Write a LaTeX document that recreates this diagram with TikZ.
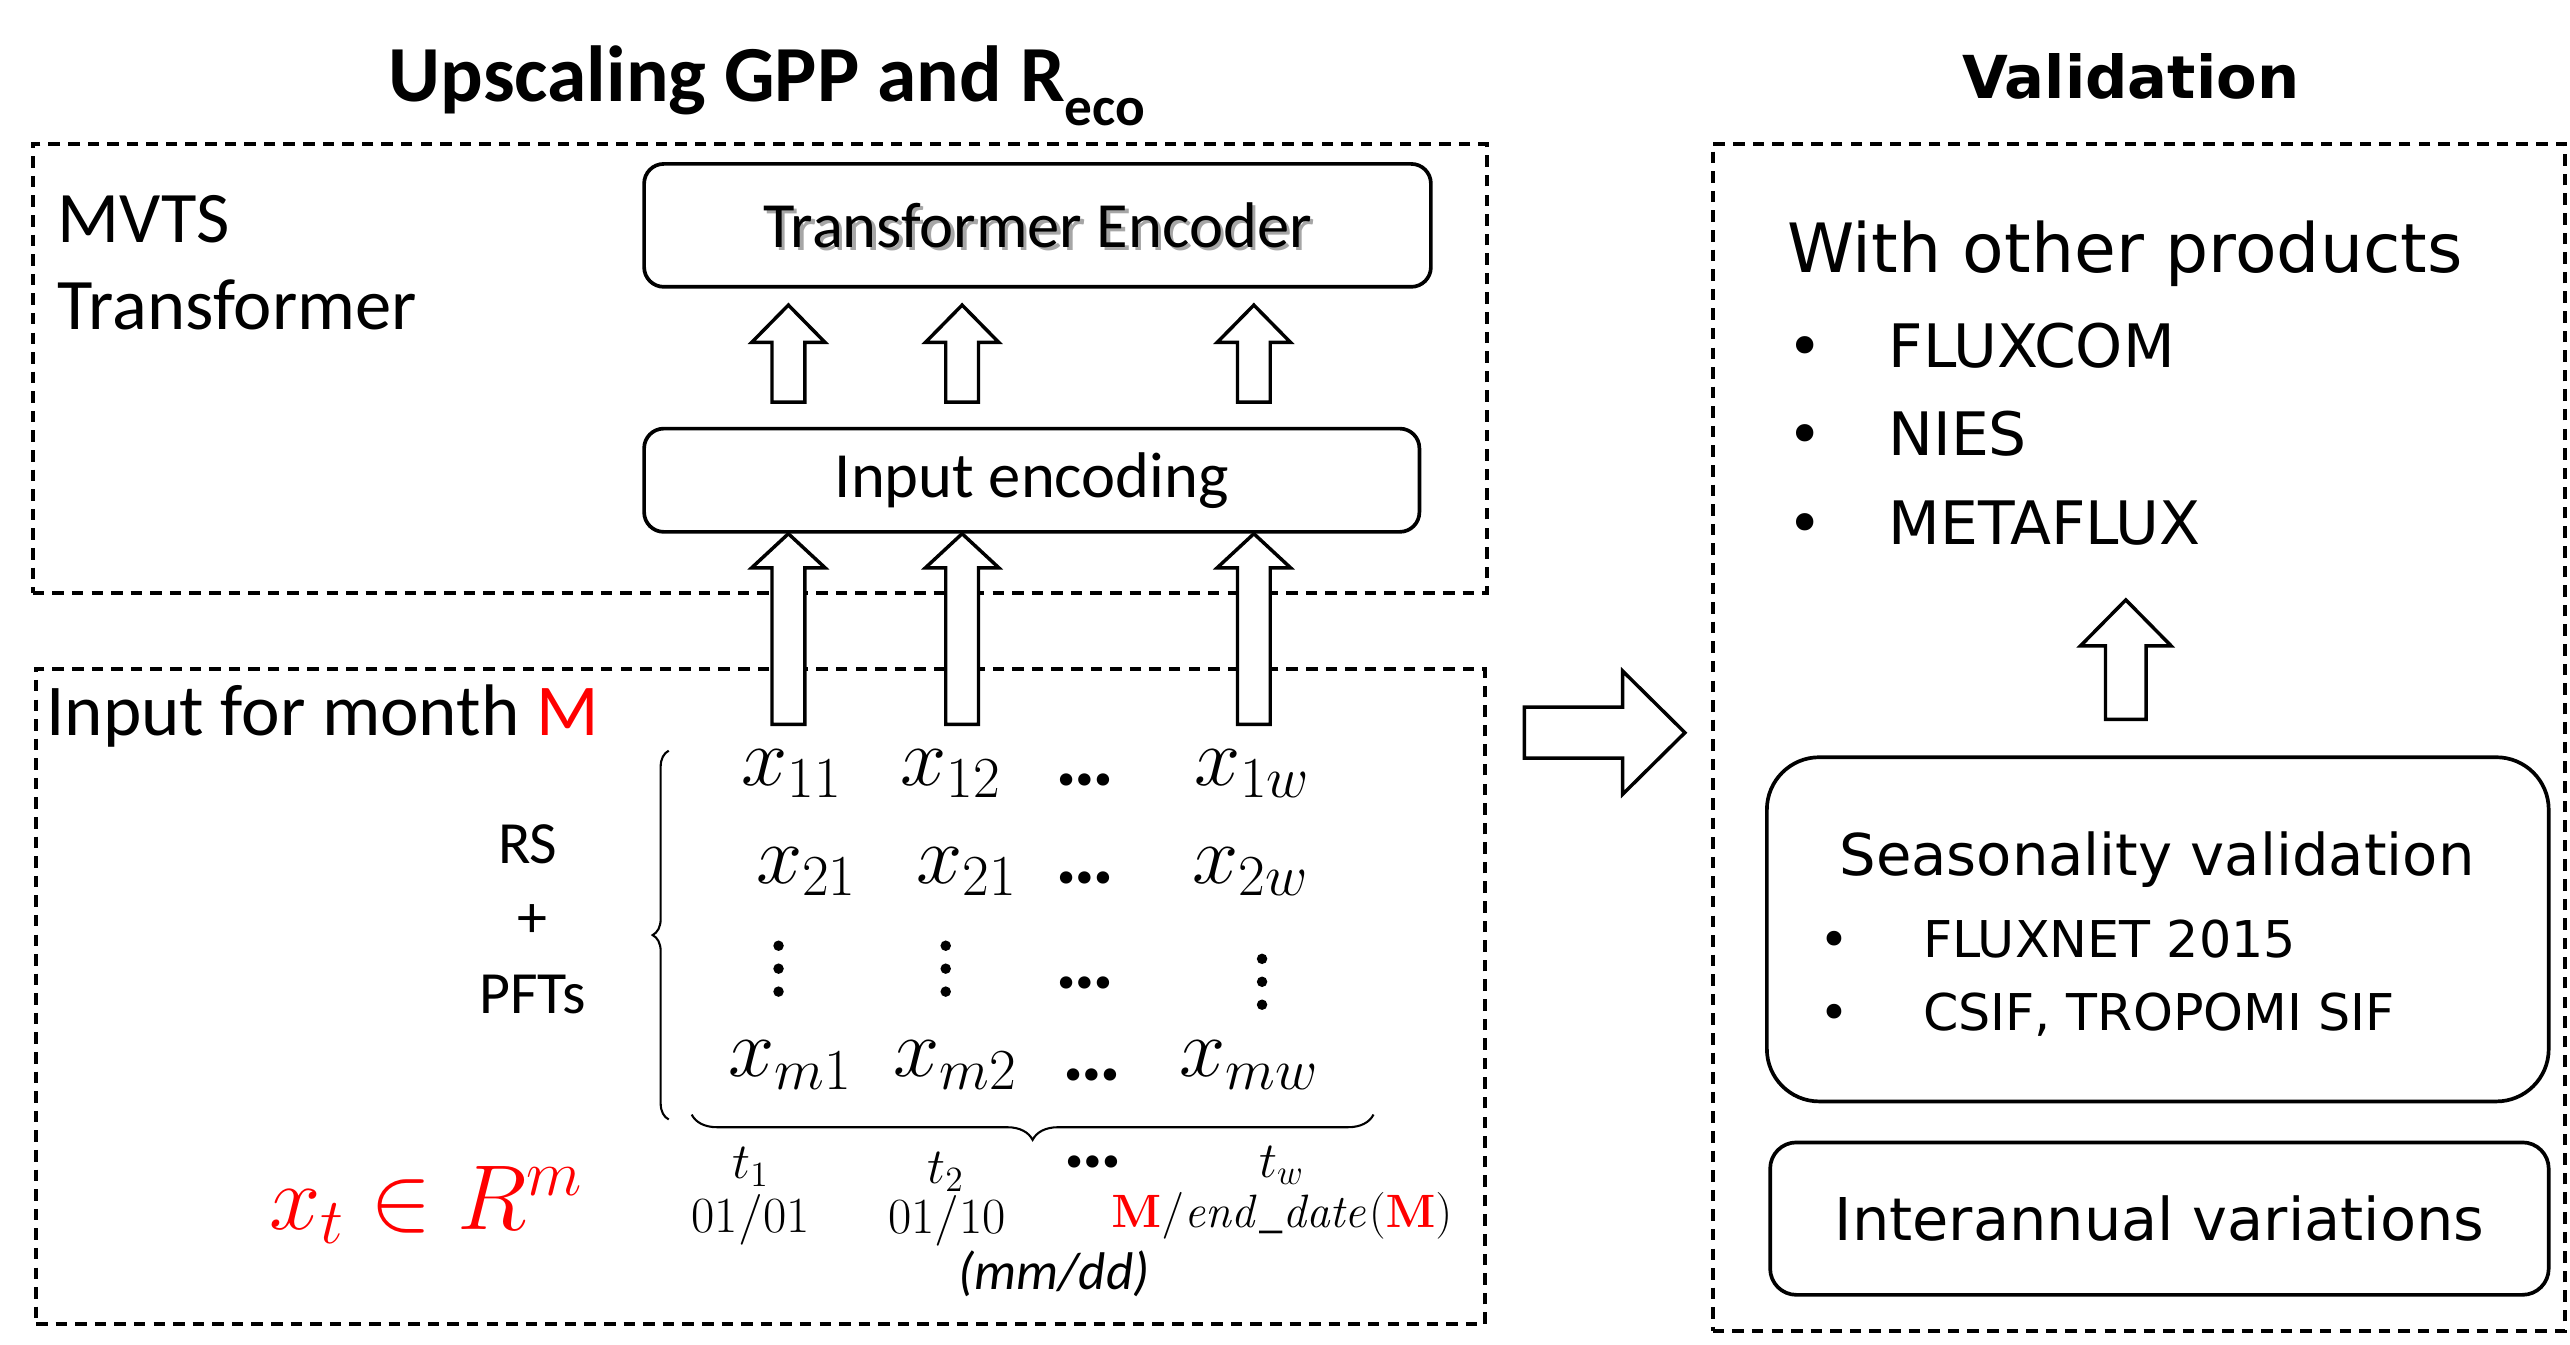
\RequirePackage{fix-cm}
\documentclass[tikz,border=0pt]{standalone}
\usepackage[no-math]{fontspec}
\setmainfont{Carlito}
\newfontfamily\dsans{DejaVu Sans}
\usetikzlibrary{calc,decorations.pathreplacing}

\newcommand\hollowup[5]{%
	\draw[hollow] let \p1=(#1), \p2=(#2) in
		(\x1-#3,\y1) -- (\x1-#3,\y2-#5) -- (\x1-#4,\y2-#5) -- (\x1,\y2)
		-- (\x1+#4,\y2-#5) -- (\x1+#3,\y2-#5) -- (\x1+#3,\y1) -- cycle;}
\newcommand\hollowright[5]{%
	\draw[hollow] let \p1=(#1), \p2=(#2) in
		(\x1,\y1+#3) -- (\x2-#5,\y1+#3) -- (\x2-#5,\y1+#4) -- (\x2,\y1)
		-- (\x2-#5,\y1-#4) -- (\x2-#5,\y1-#3) -- (\x1,\y1-#3) -- cycle;}
\newcommand\bul[2][15.5mm]{\makebox[#1][l]{\textbullet}#2}

\begin{document}
\begin{tikzpicture}[x=0.25mm,y=-0.25mm,every node/.style={inner sep=0pt},
		dashbox/.style={draw,line width=1.8pt,dash pattern=on 5pt off 3.5pt},
		solidbox/.style={draw,line width=1.6pt,rounded corners=3mm},
		hollow/.style={draw,fill=white,line width=1.5pt,line join=miter},
		txt/.style={font=\fontsize{28}{34}\selectfont},
		mtx/.style={font=\fontsize{36}{40}\selectfont,anchor=base},
		dts/.style={font=\bfseries\fontsize{36}{40}\selectfont,anchor=base},
		tsm/.style={font=\fontsize{22}{26}\selectfont},
		rtxt/.style={font=\dsans\fontsize{26}{32}\selectfont,anchor=base west},
		rsm/.style={font=\dsans\fontsize{22}{28}\selectfont,anchor=base west}]
	\useasboundingbox (0,0) rectangle (1568,820);

	\node[anchor=base,font=\bfseries\fontsize{34.5}{38}\selectfont] (ttlup) at (468,62) {Upscaling GPP and R\raisebox{-0.3em}{\fontsize{24}{26}\selectfont eco}};
	\node[anchor=base,font=\dsans\bfseries\fontsize{25.7}{32}\selectfont] (ttlval) at (1300,60) {Validation};

	% model part
	\node[dashbox,minimum width=221.75mm,minimum height=68.5mm] (mvts) at (463.5,225) {};
	\node[anchor=base west,font=\fontsize{31.5}{36}\selectfont] (mvts1) at (35,148) {MVTS};
	\node[anchor=base west,font=\fontsize{31.5}{36}\selectfont] (mvts2) at (35,201) {Transformer};
	\node[txt,text=black!35] (teshd) at (635,139.5) {Transformer Encoder};
	\node[txt,solidbox,minimum width=120mm,minimum height=18.75mm] (te) at (633,137.5) {Transformer Encoder};
	\node[txt,solidbox,minimum width=118.25mm,minimum height=15.75mm] (ie) at (629.5,293) {Input encoding};

	% input part
	\node[dashbox,minimum width=221mm,minimum height=100mm] (inp) at (464,608) {};
	\node[anchor=base west,font=\fontsize{31.7}{36}\selectfont] (inpl) at (28,449) {Input for month \textcolor{red}{M}};
	\node[font=\fontsize{26}{30}\selectfont] (rs) at (322,515) {RS};
	\node[font=\fontsize{26}{30}\selectfont] (plus) at (325,562) {+};
	\node[font=\fontsize{26}{30}\selectfont] (pft) at (325,607) {PFTs};

	\node[mtx] (x11) at (483,479) {$x_{11}$};
	\node[mtx] (x12) at (580,479) {$x_{12}$};
	\node[dts] (d1) at (662,479) {\ldots};
	\node[mtx] (x1w) at (764,479) {$x_{1w}$};
	\node[mtx] (x21) at (492,539) {$x_{21}$};
	\node[mtx] (x22) at (590,539) {$x_{21}$};
	\node[dts] (d2) at (662,539) {\ldots};
	\node[mtx] (x2w) at (763,539) {$x_{2w}$};
	\foreach \x/\y in {475/591,577/591,770/599}
		\foreach \k in {-1,0,1}
			\fill (\x,{\y+14*\k}) circle (3.2);
	\node[dts] (d3) at (662,603) {\ldots};
	\node[mtx] (xm1) at (482,657) {$x_{m1}$};
	\node[mtx] (xm2) at (583,657) {$x_{m2}$};
	\node[dts] (d4) at (666,659) {\ldots};
	\node[mtx] (xmw) at (762,657) {$x_{mw}$};

	\draw[decorate,decoration={brace,amplitude=7pt},line width=0.9pt] (408,683) -- (408,458);
	\draw[decorate,decoration={brace,amplitude=11pt},line width=0.9pt] (838,680) -- (422,680);

	\node[tsm] (t1) at (458,712) {$t_1$};
	\node[tsm] (dt1) at (458,744) {$01/01$};
	\node[tsm] (t2) at (577,715) {$t_2$};
	\node[tsm] (dt2) at (578,745) {$01/10$};
	\node[dts] (d5) at (667,712) {\ldots};
	\node[tsm] (tw) at (782,711) {$t_w$};
	\node[font=\fontsize{20.3}{24}\selectfont] (dtw) at (782,742) {${\color{red}\mathbf{M}}/\mathit{end\_date}({\color{red}\mathbf{M}})$};
	\node[font=\itshape\fontsize{23}{28}\selectfont] (mmdd) at (643,777) {(mm/dd)};
	\node[font=\fontsize{40}{46}\selectfont,text=red] (xt) at (260,735) {$x_t\in R^m$};

	\foreach \c/\x in {1/481,2/587,3/765} {
		\coordinate (in\c) at (\x,442);
		\hollowup{in\c}{ie.south -| in\c}{2.5mm}{5.6mm}{5.2mm}
		\hollowup{$(ie.north -| in\c)+(0,-15)$}{$(te.south -| in\c)+(0,10)$}{2.5mm}{5.6mm}{5.7mm}
	}

	% validation part
	\node[dashbox,minimum width=130mm,minimum height=181mm] (val) at (1305,450) {};
	\coordinate (ra) at (930,447);
	\coordinate (rb) at (1028,447);
	\hollowright{ra}{rb}{3.9mm}{9.4mm}{9.5mm}

	\node[rtxt,font=\dsans\fontsize{29.5}{32}\selectfont] (wop) at (1090,166) {With other products};
	\node[rtxt] (fx) at (1090,224) {\bul{FLUXCOM}};
	\node[rtxt] (ni) at (1090,278) {\bul{NIES}};
	\node[rtxt] (mf) at (1090,332) {\bul{METAFLUX}};

	\node[solidbox,rounded corners=8mm,minimum width=119.25mm,minimum height=52.5mm] (sv) at (1316.5,567) {};
	\node[rtxt,anchor=base,font=\dsans\fontsize{25}{32}\selectfont] (svt) at (1316,534) {Seasonality validation};
	\node[rsm] (fn) at (1110,584) {\bul[15.75mm]{FLUXNET 2015}};
	\node[rsm] (cs) at (1110,629) {\bul[15.75mm]{CSIF, TROPOMI SIF}};
	\node[solidbox,rounded corners=4mm,minimum width=118.75mm,minimum height=23.25mm,font=\dsans\fontsize{25.6}{32}\selectfont] (iav) at (1317.5,743.5) {Interannual variations};

	\hollowup{$(sv.north)+(-19.5,-22)$}{$(mf.base -| sv.north)+(-19.5,34)$}{3.1mm}{6.9mm}{7mm}
\end{tikzpicture}
\end{document}
